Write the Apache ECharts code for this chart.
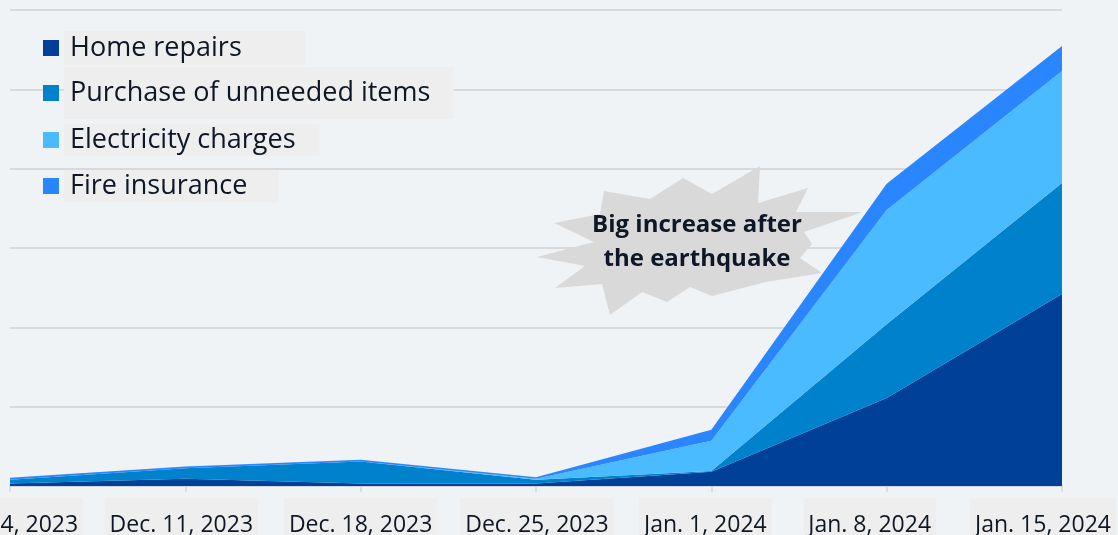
<!DOCTYPE html>
<html>
<head>
<meta charset="utf-8">
<script src="https://cdn.jsdelivr.net/npm/echarts@6/dist/echarts.min.js"></script>
<style>
html,body{margin:0;padding:0;background:#f0f3f5;}
#chart{width:1118px;height:535px;}
</style>
</head>
<body>
<div id="chart"></div>
<script>
const categories = ['Dec. 4, 2023', 'Dec. 11, 2023', 'Dec. 18, 2023', 'Dec. 25, 2023', 'Jan. 1, 2024', 'Jan. 8, 2024', 'Jan. 15, 2024'];
const homeRepairs = [0.03, 0.09, 0.03, 0.03, 0.18, 1.11, 2.42];
const unneededItems = [0.05, 0.135, 0.28, 0.05, 0.01, 0.93, 1.40];
const electricity = [0.0, 0.0, 0.0, 0.01, 0.38, 1.44, 1.41];
const fireInsurance = [0.025, 0.02, 0.02, 0.02, 0.14, 0.33, 0.315];
const seriesNames = ['Home repairs', 'Purchase of unneeded items', 'Electricity charges', 'Fire insurance'];
const annotationText = 'Big increase after\nthe earthquake';

// layout: horizontal nudge of each tick label (px, negative = left)
const labelNudge = [3, -4, 0, 1, -6, -17, -19];

const colors = ['#004098', '#0081cb', '#4abbff', '#2a86ff'];
const FONT = '"Open Sans", Lato, sans-serif';
const TXT = '#0e1726';
const BOX = '#eeeeee';

const chart = echarts.init(document.getElementById('chart'));

function mkSeries(name, data, color) {
  return {
    name: name, type: 'line', stack: 'total', data: data,
    symbol: 'none', smooth: false,
    lineStyle: { width: 0, color: color },
    itemStyle: { color: color },
    areaStyle: { color: color, opacity: 1 },
    emphasis: { disabled: true },
    z: 2
  };
}

function mkLegend(name, top, pad) {
  return {
    data: [{ name: name, icon: 'rect' }],
    left: 43, top: top, padding: 0,
    itemWidth: 16, itemHeight: 16, itemGap: 0,
    selectedMode: false,
    textStyle: {
      fontFamily: FONT, fontSize: 27, color: TXT,
      lineHeight: 30, backgroundColor: BOX, padding: pad
    }
  };
}

// rich styles for tick labels
const rich = {
  b: { fontFamily: FONT, fontSize: 23, color: TXT, backgroundColor: BOX, padding: [16, 5, 8, 5] }
};
labelNudge.forEach(function (n, i) {
  rich['s' + i] = { width: Math.abs(n) * 2, fontSize: 23 };
});

// starburst outline (annotation decoration, pixel space)
const burst = [
  [760,166],[758,203],[808,188],[796,212],[863,212],[804,232],[812,244],[800,258],
  [822,273],[766,282],[712,296],[690,287],[667,302],[642,292],[610,315],[602,284],
  [555,288],[585,266],[537,257],[594,242],[554,223],[600,214],[604,191],[650,199],
  [683,178],[712,194]
];

chart.setOption({
  backgroundColor: '#f0f3f5',
  animation: false,
  color: colors,
  grid: { left: 10, right: 56, top: 10, bottom: 49, containLabel: false, outerBoundsMode: 'none' },
  legend: [
    mkLegend(seriesNames[0], 31, [2, 64, 2, 6]),
    mkLegend(seriesNames[1], 67, [11, 23, 11, 6]),
    mkLegend(seriesNames[2], 124, [1, 24, 1, 6]),
    mkLegend(seriesNames[3], 170, [1, 31, 1, 6])
  ],
  xAxis: {
    type: 'category', data: categories, boundaryGap: false,
    axisLine: { show: true, lineStyle: { color: '#d6d6d6', width: 2 } },
    axisTick: { show: true, length: 6, lineStyle: { color: '#d6d6d6', width: 1.5 }, alignWithLabel: true },
    axisLabel: {
      interval: 0, margin: 12, hideOverlap: false,
      formatter: function (v, i) {
        const n = labelNudge[i] || 0;
        if (n === 0) return '{b|' + v + '}';
        return n < 0 ? '{b|' + v + '}{s' + i + '| }' : '{s' + i + '| }{b|' + v + '}';
      },
      rich: rich
    },
    splitLine: { show: false }
  },
  yAxis: {
    type: 'value', min: 0, max: 6, interval: 1,
    axisLabel: { show: false }, axisLine: { show: false }, axisTick: { show: false },
    splitLine: { lineStyle: { color: '#d9d9d9', width: 2 } }
  },
  series: [
    mkSeries(seriesNames[0], homeRepairs, colors[0]),
    mkSeries(seriesNames[1], unneededItems, colors[1]),
    mkSeries(seriesNames[2], electricity, colors[2]),
    mkSeries(seriesNames[3], fireInsurance, colors[3])
  ],
  graphic: [
    { type: 'polygon', shape: { points: burst }, style: { fill: '#d9d9d9' }, z: 1 },
    {
      type: 'text', x: 697, y: 242, z: 3,
      style: {
        text: annotationText, fontFamily: FONT, fontWeight: 'bold', fontSize: 24,
        lineHeight: 34, fill: TXT, align: 'center', verticalAlign: 'middle'
      }
    }
  ]
});
</script>
</body>
</html>
